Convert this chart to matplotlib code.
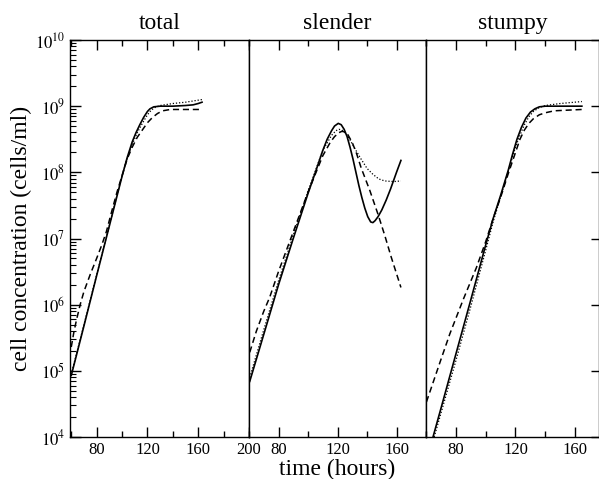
import numpy as np
import matplotlib
matplotlib.use("Agg")
import matplotlib.pyplot as plt
from matplotlib.ticker import LogLocator, NullFormatter, MultipleLocator, NullLocator

plt.rcParams['font.family'] = ['Liberation Serif', 'DejaVu Serif']
plt.rcParams['mathtext.fontset'] = 'stix'

# ---- data (hours, log10 cells/ml) ----------------------------------------
# total
tot_solid_t = [60, 70, 80, 90, 100, 104, 108, 111, 114, 117, 120, 122, 125, 130, 140, 150, 156, 160, 163]
tot_solid_y = [4.93, 5.68, 6.44, 7.19, 7.94, 8.22, 8.46, 8.6, 8.72, 8.83, 8.92, 8.96, 8.99, 9.0, 9.0,
               9.01, 9.02, 9.04, 9.06]
tot_dot_t = [60, 70, 80, 90, 100, 104, 108, 112, 116, 120, 123, 126, 130, 140, 150, 163]
tot_dot_y = [4.95, 5.7, 6.45, 7.2, 7.95, 8.2, 8.42, 8.6, 8.74, 8.87, 8.94, 8.98, 9.01, 9.04, 9.06, 9.1]
tot_dash_t = [60, 62, 64, 67, 70, 75, 80, 84, 87.6, 92, 96, 100, 104, 108, 112, 116, 120, 124, 128,
              132, 138, 150, 163]
tot_dash_y = [5.36, 5.58, 5.76, 6.0, 6.2, 6.46, 6.7, 6.9, 7.1, 7.42, 7.7, 7.95, 8.2, 8.38, 8.53, 8.64,
              8.75, 8.83, 8.89, 8.93, 8.95, 8.95, 8.95]

# slender
sl_solid_t = [60.5, 70, 80, 90, 100, 105, 110, 113, 116, 118, 120.5, 122.5, 124.5, 126.5, 128.5,
              130.5, 132.5, 134.5, 136.5, 138.5, 140.5, 142.5, 144, 145.5, 147.5, 150, 153, 156, 160, 163]
sl_solid_y = [4.84, 5.55, 6.3, 7.0, 7.68, 8.0, 8.33, 8.5, 8.63, 8.7, 8.74, 8.72, 8.65, 8.54, 8.38,
              8.2, 8.0, 7.8, 7.62, 7.46, 7.33, 7.25, 7.24, 7.27, 7.33, 7.43, 7.58, 7.75, 8.0, 8.18]
sl_dot_t = [60.5, 70, 80, 90, 100, 110, 116, 119, 121, 123, 126, 129, 132, 136, 140, 144, 148, 152,
            158, 163]
sl_dot_y = [4.9, 5.62, 6.36, 7.05, 7.72, 8.33, 8.56, 8.63, 8.65, 8.64, 8.58, 8.47, 8.35, 8.2, 8.06,
            7.97, 7.9, 7.87, 7.86, 7.87]
sl_dash_t = [60.5, 65, 70, 74, 80, 90, 100, 110, 115, 118, 121, 123, 125, 127, 130, 133, 136, 142,
             147.4, 152, 156.4, 163]
sl_dash_y = [5.28, 5.6, 5.9, 6.11, 6.5, 7.1, 7.7, 8.25, 8.45, 8.54, 8.6, 8.62, 8.61, 8.57, 8.45,
             8.28, 8.07, 7.72, 7.37, 7.05, 6.72, 6.26]

# stumpy
st_solid_t = [64.7, 70, 80, 90, 100, 105, 110, 115, 118, 121, 124, 127, 130, 133, 136, 140, 164.5]
st_solid_y = [4.0, 4.43, 5.25, 6.07, 6.9, 7.3, 7.65, 8.02, 8.27, 8.5, 8.68, 8.82, 8.91, 8.96, 8.99,
              9.0, 9.0]
st_dot_t = [65.5, 80, 90, 100, 105, 110, 120, 123, 126, 129, 132, 136, 140, 150, 164.5]
st_dot_y = [4.0, 5.15, 5.97, 6.82, 7.25, 7.63, 8.38, 8.56, 8.72, 8.84, 8.92, 8.98, 9.01, 9.04, 9.07]
st_dash_t = [60.3, 70, 76, 85, 93.8, 100, 105, 110, 115, 120, 123, 126, 129, 132, 136, 140, 146, 164.5]
st_dash_y = [4.53, 5.17, 5.56, 6.08, 6.56, 6.95, 7.3, 7.62, 7.97, 8.3, 8.5, 8.64, 8.74, 8.81, 8.87,
             8.9, 8.93, 8.95]

titles = ["total", "slender", "stumpy"]
ytick_exp = [4, 5, 6, 7, 8, 9, 10]

panels = [
    (tot_solid_t, tot_solid_y, tot_dot_t, tot_dot_y, tot_dash_t, tot_dash_y),
    (sl_solid_t, sl_solid_y, sl_dot_t, sl_dot_y, sl_dash_t, sl_dash_y),
    (st_solid_t, st_solid_y, st_dot_t, st_dot_y, st_dash_t, st_dash_y),
]

# ---- layout (pixel edges of the reference) -------------------------------
W, H = 599, 479
edges = [70, 249, 426, 599]
top, bot = 40, 437
xlims = [(59, 200), (60, 180), (60, 176)]

fig = plt.figure(figsize=(W / 100, H / 100), dpi=100)
axes = []
for i in range(3):
    ax = fig.add_axes([edges[i] / W, 1 - bot / H, (edges[i + 1] - edges[i]) / W, (bot - top) / H])
    axes.append(ax)

for i, (ax, p) in enumerate(zip(axes, panels)):
    st, sy, dt, dy, at, ay = p
    ax.plot(st, 10 ** np.array(sy), color="black", lw=1.2, ls="-")
    ax.plot(dt, 10 ** np.array(dy), color="black", lw=0.9, ls=(0, (1, 1.5)))
    ax.plot(at, 10 ** np.array(ay), color="black", lw=1.1, ls=(0, (4, 2.5)))
    ax.set_yscale("log")
    ax.set_ylim(1e4, 1e10)
    ax.set_xlim(*xlims[i])
    ax.set_title(titles[i], fontsize=17, pad=8)

    ax.xaxis.set_major_locator(MultipleLocator(40))
    ax.xaxis.set_minor_locator(MultipleLocator(20))
    ax.tick_params(axis="x", which="both", direction="in", top=True, bottom=True, labelsize=12)
    ax.tick_params(axis="x", which="major", length=7, width=1)
    ax.tick_params(axis="x", which="minor", length=4, width=1)
    for s in ax.spines.values():
        s.set_linewidth(1.0)

    if i == 0:
        ax.set_xticks([80, 120, 160, 200])
        ax.set_yticks([10.0 ** e for e in ytick_exp], [r"$10^{%d}$" % e for e in ytick_exp])
        ax.yaxis.set_minor_locator(LogLocator(base=10, subs=np.arange(2, 10)))
        ax.yaxis.set_minor_formatter(NullFormatter())
        ax.tick_params(axis="y", which="both", direction="in", left=True, right=False, labelsize=12)
        ax.tick_params(axis="y", which="major", length=8, width=1)
        ax.tick_params(axis="y", which="minor", length=4, width=0.8)
        ax.set_ylabel("cell concentration (cells/ml)", fontsize=17, labelpad=2)
    else:
        ax.set_xticks([80, 120, 160])
        ax.yaxis.set_minor_locator(NullLocator())
        if i == 2:
            ax.set_yticks([10.0 ** e for e in ytick_exp])
            ax.tick_params(axis="y", which="major", direction="in", left=False, right=True,
                           labelleft=False, length=6, width=1)
        else:
            ax.set_yticks([])
    if i == 1:
        ax.set_xlabel("time (hours)", fontsize=17, labelpad=1)

fig.savefig("out.png", dpi=100)
